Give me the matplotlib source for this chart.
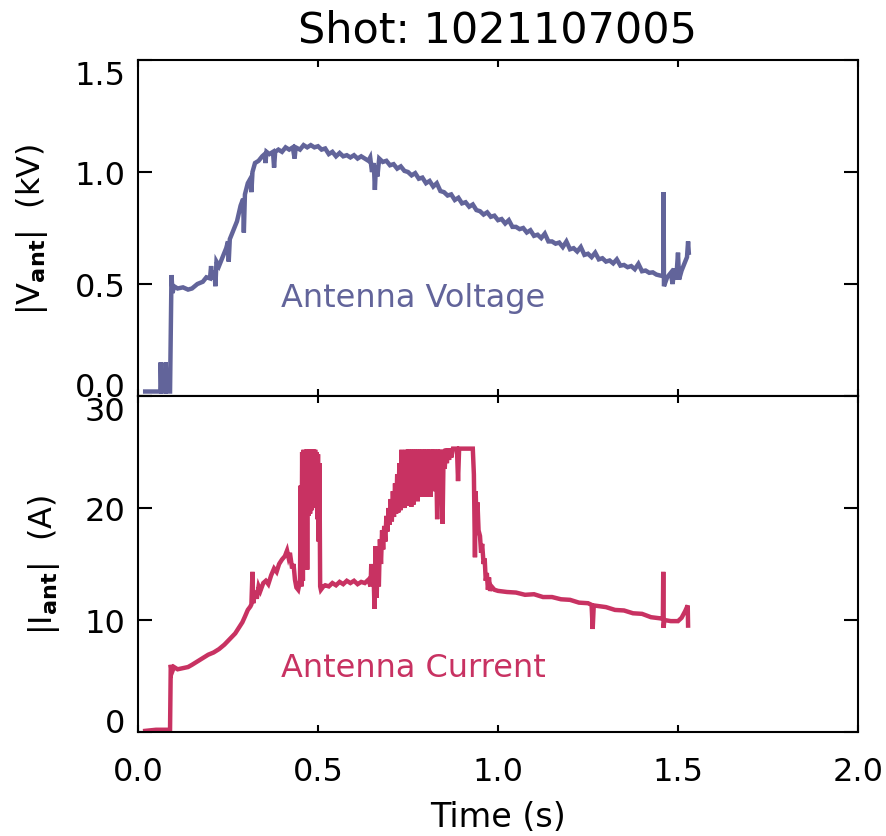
import matplotlib
matplotlib.use("Agg")
import matplotlib.pyplot as plt

# Antenna voltage |V_ant| (kV) versus time (s)
t_volt = [0.020, 0.045, 0.062, 0.063, 0.065, 0.076, 0.077, 0.079, 0.089, 0.093,
          0.096, 0.100, 0.110, 0.125, 0.139, 0.150, 0.165, 0.180, 0.190, 0.200,
          0.203, 0.206, 0.212, 0.215, 0.218, 0.225, 0.235, 0.245, 0.250, 0.252,
          0.255, 0.265, 0.275, 0.285, 0.292, 0.294, 0.297, 0.305, 0.312, 0.315,
          0.318, 0.325, 0.335, 0.345, 0.352, 0.354, 0.357, 0.365, 0.375, 0.378,
          0.381, 0.390, 0.400, 0.410, 0.420, 0.430, 0.435, 0.438, 0.450, 0.460,
          0.470, 0.480, 0.490, 0.500, 0.510, 0.520, 0.530, 0.540, 0.550, 0.560,
          0.570, 0.580, 0.590, 0.600, 0.610, 0.620, 0.630, 0.640, 0.645, 0.650,
          0.655, 0.658, 0.661, 0.665,
          0.67, 0.68, 0.69, 0.70, 0.71, 0.72, 0.73, 0.74, 0.75, 0.76,
          0.77, 0.78, 0.79, 0.80, 0.81, 0.82, 0.83, 0.84, 0.85, 0.86,
          0.87, 0.88, 0.89, 0.90, 0.91, 0.92, 0.93, 0.94, 0.95, 0.96,
          0.97, 0.98, 0.99, 1.00, 1.01, 1.02, 1.03, 1.04, 1.05, 1.06,
          1.07, 1.08, 1.09, 1.10, 1.11, 1.12, 1.13, 1.14, 1.15, 1.16,
          1.17, 1.18, 1.19, 1.20, 1.21, 1.22, 1.23, 1.24, 1.25, 1.26,
          1.27, 1.28, 1.29, 1.30, 1.31, 1.32, 1.33, 1.34, 1.35, 1.36,
          1.37, 1.38, 1.39, 1.40, 1.41, 1.42, 1.43, 1.44, 1.45,
          1.459, 1.460, 1.461, 1.470, 1.480, 1.485, 1.490, 1.495, 1.500, 1.503,
          1.510, 1.520, 1.525, 1.528, 1.530]
v_ant = [0.02, 0.02, 0.02, 0.15, 0.02, 0.02, 0.15, 0.02, 0.02, 0.54,
         0.46, 0.49, 0.48, 0.485, 0.475, 0.48, 0.50, 0.51, 0.53, 0.525,
         0.58, 0.52, 0.56, 0.49, 0.60, 0.58, 0.62, 0.66, 0.69, 0.60,
         0.70, 0.74, 0.78, 0.85, 0.88, 0.73, 0.90, 0.95, 0.97, 0.91,
         1.00, 1.04, 1.05, 1.07, 1.08, 1.04, 1.09, 1.08, 1.09, 1.02,
         1.09, 1.10, 1.09, 1.11, 1.10, 1.11, 1.06, 1.11, 1.10, 1.12,
         1.11, 1.12, 1.11, 1.115, 1.10, 1.105, 1.08, 1.09, 1.07, 1.085,
         1.07, 1.075, 1.065, 1.075, 1.06, 1.07, 1.06, 1.05, 1.065, 1.00,
         1.04, 0.92, 1.03, 0.98,
         1.060, 1.045, 1.050, 1.030, 1.035, 1.015, 1.025, 1.005, 1.000, 0.985,
         0.995, 0.970, 0.975, 0.950, 0.960, 0.935, 0.950, 0.915, 0.910, 0.895,
         0.900, 0.875, 0.885, 0.860, 0.865, 0.845, 0.855, 0.830, 0.825, 0.810,
         0.820, 0.800, 0.805, 0.785, 0.790, 0.770, 0.785, 0.755, 0.755, 0.745,
         0.750, 0.730, 0.740, 0.715, 0.720, 0.705, 0.725, 0.690, 0.690, 0.680,
         0.685, 0.665, 0.690, 0.655, 0.660, 0.645, 0.665, 0.630, 0.635, 0.620,
         0.640, 0.610, 0.615, 0.600, 0.605, 0.592, 0.610, 0.582, 0.585, 0.575,
         0.580, 0.566, 0.590, 0.557, 0.560, 0.550, 0.552, 0.542, 0.538,
         0.535, 0.91, 0.49, 0.53, 0.55, 0.50, 0.57, 0.52, 0.64, 0.52,
         0.56, 0.60, 0.62, 0.69, 0.64]

# Antenna current |I_ant| (A) versus time (s)
t_curr = [0.020, 0.050, 0.089, 0.091, 0.094, 0.100, 0.110, 0.125, 0.139, 0.150,
          0.165, 0.180, 0.195, 0.210, 0.225, 0.240, 0.255, 0.270, 0.280, 0.290,
          0.297, 0.305, 0.312, 0.315, 0.318, 0.320, 0.325, 0.330, 0.335, 0.340,
          0.348, 0.355, 0.362, 0.370, 0.378, 0.385, 0.392, 0.400, 0.408, 0.414,
          0.418, 0.422, 0.428, 0.432, 0.436, 0.440, 0.445,
          0.450, 0.452, 0.454, 0.456, 0.458, 0.460, 0.462, 0.464, 0.466, 0.468,
          0.470, 0.472, 0.474, 0.476, 0.478, 0.480, 0.482, 0.484, 0.486, 0.488,
          0.490, 0.492, 0.494, 0.496, 0.498, 0.500, 0.502, 0.504, 0.506, 0.508,
          0.515, 0.520, 0.530, 0.540, 0.550, 0.560, 0.570, 0.580, 0.590, 0.600,
          0.610, 0.620, 0.630, 0.640,
          0.646, 0.648, 0.651, 0.654, 0.657, 0.660, 0.663, 0.666, 0.669, 0.672,
          0.675, 0.678, 0.681, 0.684, 0.687, 0.690, 0.693, 0.696, 0.699, 0.702,
          0.705, 0.708, 0.711, 0.714, 0.717, 0.720, 0.723, 0.726, 0.729, 0.732,
          0.735, 0.738, 0.741, 0.744, 0.747, 0.750, 0.753, 0.756, 0.759, 0.762,
          0.765, 0.768, 0.771, 0.774, 0.777, 0.780, 0.783, 0.786, 0.789, 0.792,
          0.795, 0.798, 0.801, 0.804, 0.807, 0.810, 0.813, 0.816, 0.819, 0.822,
          0.825, 0.828, 0.831, 0.834, 0.837, 0.840, 0.843, 0.846, 0.849, 0.852,
          0.855, 0.858, 0.861, 0.864, 0.867, 0.870, 0.875, 0.880, 0.886, 0.889,
          0.892, 0.900, 0.910, 0.920, 0.930, 0.933, 0.936, 0.938, 0.940, 0.943,
          0.946, 0.950, 0.953, 0.956, 0.960, 0.963, 0.966, 0.969, 0.972, 0.975,
          0.978, 0.982, 0.990,
          1.000, 1.025, 1.050, 1.075, 1.100, 1.125, 1.150, 1.175, 1.200, 1.225,
          1.250, 1.260, 1.263, 1.266, 1.300, 1.325, 1.350, 1.375, 1.400, 1.425,
          1.450, 1.458, 1.459, 1.460, 1.462, 1.480, 1.500, 1.510, 1.520, 1.527,
          1.528]
i_ant = [0.1, 0.2, 0.2, 6.0, 5.3, 5.8, 5.6, 5.7, 5.8, 6.0,
         6.3, 6.6, 6.9, 7.1, 7.4, 7.8, 8.3, 8.8, 9.3, 9.8,
         10.3, 10.9, 11.2, 11.4, 14.3, 11.5, 12.6, 11.9, 13.0, 12.6,
         13.3, 13.5, 13.2, 14.0, 14.6, 14.3, 15.0, 15.4, 15.7, 16.2,
         15.6, 16.0, 14.6, 15.0, 13.6, 12.9, 12.7,
         13.5, 22.0, 13.0, 25.0, 13.5, 25.2, 14.5, 22.0, 15.0, 25.2,
         14.5, 25.2, 19.3, 25.2, 19.5, 25.2, 19.8, 25.2, 20.5, 25.2,
         20.0, 25.2, 21.0, 25.0, 19.0, 24.8, 17.0, 24.0, 13.0, 12.7,
         13.0, 13.1, 13.0, 13.3, 13.1, 13.4, 13.2, 13.5, 13.3, 13.5,
         13.2, 13.4, 13.3, 13.6,
         13.0, 15.0, 13.2, 14.5, 11.0, 16.6, 12.0, 16.0, 13.0, 17.2,
         15.0, 18.0, 16.3, 18.4, 17.0, 19.3, 17.9, 20.0, 18.5, 20.8,
         18.8, 21.5, 19.2, 22.2, 19.5, 23.0, 19.6, 24.0, 19.8, 25.2,
         20.0, 24.0, 20.0, 25.2, 20.5, 25.2, 20.2, 25.2, 20.1, 25.2,
         20.3, 25.2, 21.0, 25.2, 20.6, 25.2, 21.5, 25.2, 21.0, 25.2,
         22.0, 25.2, 21.0, 25.2, 22.5, 25.2, 21.0, 25.2, 23.0, 25.2,
         21.5, 25.2, 19.0, 25.2, 23.0, 25.2, 22.0, 18.6, 25.2, 23.5,
         25.3, 24.0, 25.3, 24.3, 25.3, 24.5, 25.3, 25.3, 25.3, 22.4,
         25.3, 25.3, 25.3, 25.3, 25.3, 23.0, 15.6, 21.5, 19.0, 20.5,
         18.0, 17.5, 16.0, 16.8, 15.0, 15.5, 13.5, 14.2, 12.7, 13.8,
         12.6, 13.0, 12.7,
         12.6, 12.5, 12.45, 12.25, 12.3, 12.05, 12.05, 11.85, 11.8, 11.55,
         11.5, 11.35, 9.2, 11.3, 11.15, 10.9, 10.85, 10.6, 10.55, 10.25,
         10.15, 10.1, 14.3, 9.3, 10.0, 9.9, 9.9, 10.2, 10.8, 11.3,
         9.5]

title_text = "Shot: 1021107005"
x_ticks = [0.0, 0.5, 1.0, 1.5, 2.0]
x_ticklabels = ["0.0", "0.5", "1.0", "1.5", "2.0"]
v_ticks = [0.0, 0.5, 1.0, 1.5]
v_ticklabels = ["0.0", "0.5", "1.0", "1.5"]
i_ticks = [0, 10, 20, 30]
i_ticklabels = ["0", "10", "20", "30"]

VOLT_COLOR = "#62649a"
CURR_COLOR = "#c83262"

plt.rcParams["font.family"] = ["DejaVu Sans"]
plt.rcParams["mathtext.fontset"] = "dejavusans"

W, H = 887, 837
fig = plt.figure(figsize=(W / 100, H / 100), dpi=100)

left = 138 / W
width = (858 - 138) / W
ax_v = fig.add_axes([left, 1 - 397 / H, width, (397 - 61) / H])
ax_i = fig.add_axes([left, 1 - 733 / H, width, (733 - 397) / H])

for ax in (ax_v, ax_i):
    for sp in ax.spines.values():
        sp.set_linewidth(1.5)
    ax.set_xlim(0, 2.0)
    ax.set_xticks(x_ticks)
    ax.tick_params(axis="x", which="major", direction="in", length=5, width=1.5,
                   top=True, bottom=True, labelsize=23, pad=17)
    ax.tick_params(axis="y", which="major", direction="in", length=10, width=1.5,
                   left=True, right=True, labelsize=23, pad=9)
    ax.minorticks_off()

ax_v.plot(t_volt, v_ant, color=VOLT_COLOR, lw=3.2, solid_joinstyle="miter")
ax_v.set_ylim(0, 1.5)
ax_v.set_yticks(v_ticks)
ax_v.set_yticklabels(v_ticklabels)
ax_v.tick_params(axis="x", labelbottom=False)
ax_v.set_ylabel(r"|V$_{\mathbf{ant}}$|  (kV)", fontsize=23)
ax_v.yaxis.set_label_coords(-0.122, 0.5)
ax_v.text(0.397, 0.40, "Antenna Voltage", color=VOLT_COLOR, fontsize=23,
          ha="left", va="baseline")
ax_v.set_title(title_text, fontsize=31, pad=13)

ax_i.plot(t_curr, i_ant, color=CURR_COLOR, lw=3.2, solid_joinstyle="miter")
ax_i.set_ylim(0, 30)
ax_i.set_yticks(i_ticks)
ax_i.set_yticklabels(i_ticklabels)
ax_i.set_xticklabels(x_ticklabels)
ax_i.set_ylabel(r"|I$_{\mathbf{ant}}$|  (A)", fontsize=23)
ax_i.yaxis.set_label_coords(-0.106, 0.5)
ax_i.set_xlabel("Time (s)", fontsize=24, labelpad=10)
ax_i.text(0.397, 5.0, "Antenna Current", color=CURR_COLOR, fontsize=23,
          ha="left", va="baseline")

# keep the end labels of each y axis inside their own panel
for ax in (ax_v, ax_i):
    labels = ax.get_yticklabels()
    labels[0].set_verticalalignment("baseline")
    labels[-1].set_verticalalignment("top")

fig.savefig("out.png", dpi=100)
